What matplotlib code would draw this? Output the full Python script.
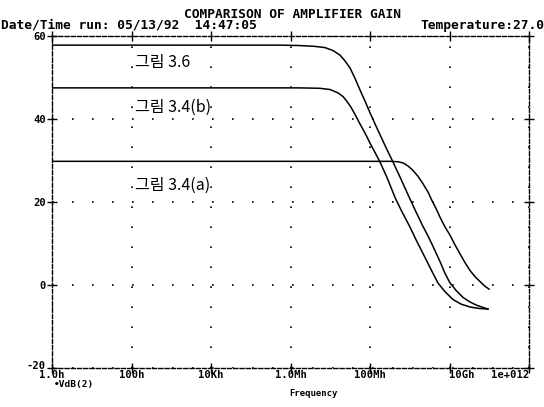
import numpy as np
import matplotlib
matplotlib.use('Agg')
import matplotlib.pyplot as plt
import matplotlib.transforms as mtransforms

# Frequency response (Hz, dB)
freq_36 = [1, 5.4e5, 1.7e6, 4.1e6, 7.4e6, 1.17e7, 1.76e7, 2.35e7, 3.14e7,
           4.2e7, 5.6e7, 7.5e7, 1.0e8, 1.34e8, 1.79e8, 2.53e8, 3.8e8, 5.7e8,
           9.0e8, 1.36e9, 2.03e9, 2.88e9, 3.85e9, 5.8e9, 7.7e9, 1.03e10,
           1.46e10, 2.19e10, 3.28e10, 4.9e10, 7.0e10, 9.3e10]
gain_36 = [57.8, 57.8, 57.7, 57.5, 57.2, 56.5, 55.4, 54.0, 52.3,
           49.8, 47.0, 44.3, 41.5, 38.8, 36.2, 33.1, 29.6, 26.0,
           21.8, 18.1, 14.6, 11.8, 9.3, 5.6, 2.8, 0.5,
           -1.3, -3.0, -4.1, -4.9, -5.4, -5.8]

freq_34b = [1, 1.7e6, 5.5e6, 9.9e6, 1.57e7, 2.1e7, 2.6e7, 3.3e7, 4.2e7,
            5.6e7, 7.5e7, 1.0e8, 1.34e8, 1.79e8, 2.68e8, 4.3e8, 6.4e8,
            1.01e9, 1.44e9, 2.15e9, 3.2e9, 5.1e9, 7.7e9, 1.22e10, 1.95e10,
            3.28e10, 5.5e10, 9.3e10]
gain_34b = [47.5, 47.5, 47.4, 47.1, 46.3, 45.4, 44.3, 42.9, 41.1,
            38.8, 36.6, 34.2, 31.9, 29.6, 25.9, 21.0, 17.6,
            14.0, 10.9, 7.6, 4.3, 0.5, -1.6, -3.5, -4.6,
            -5.3, -5.65, -5.8]

freq_34a = [1, 3.2e8, 5.1e8, 6.8e8, 9.0e8, 1.21e9, 1.61e9, 2.15e9, 2.88e9,
            3.6e9, 4.6e9, 5.8e9, 7.7e9, 1.03e10, 1.37e10, 1.84e10, 2.45e10,
            3.28e10, 4.4e10, 5.9e10, 7.8e10, 9.9e10]
gain_34a = [29.8, 29.8, 29.7, 29.4, 28.7, 27.6, 26.2, 24.4, 22.4,
            20.4, 18.4, 16.3, 14.0, 12.0, 9.7, 7.5, 5.4,
            3.5, 2.0, 0.8, -0.3, -1.0]

xticks = [1, 1e2, 1e4, 1e6, 1e8, 1e10, 1e12]
xlabels = ['1.0h', '100h', '10Kh', '1.0Mh', '100Mh', '10Gh', '1e+012']
yticks = [-20, 0, 20, 40, 60]

mono = {'family': 'DejaVu Sans Mono', 'weight': 'bold'}
kor = ['Noto Sans CJK KR', 'DejaVu Sans']

fig = plt.figure(figsize=(5.44, 4.07), dpi=100)
ax = fig.add_axes([52/544, 1 - 368/407, (529 - 52)/544, (368 - 36)/407])

for f, g in [(freq_36, gain_36), (freq_34b, gain_34b), (freq_34a, gain_34a)]:
    ax.plot(f, g, color='black', lw=1.1)

ax.set_xscale('log')
ax.set_xlim(1, 1e12)
ax.set_ylim(-20, 60)
ax.set_xticks(xticks)
ax.set_xticklabels(xlabels, fontsize=7.6, **mono)
ax.xaxis.set_minor_locator(matplotlib.ticker.NullLocator())
ax.set_yticks(yticks)
ax.set_yticklabels([str(v) for v in yticks], fontsize=7.6, **mono)

ax.tick_params(direction='inout', length=7, width=1, top=True, right=True,
               colors='black')
ax.tick_params(axis='x', pad=-2)
ax.tick_params(axis='y', pad=1)

labs = ax.get_xticklabels()
labs[-1].set_ha('right')
labs[-2].set_transform(labs[-2].get_transform() +
                       mtransforms.ScaledTranslation(0.12, 0, fig.dpi_scale_trans))
# bottom y label sits a bit higher so it clears "1.0h"
ylabs = ax.get_yticklabels()
ylabs[0].set_transform(ylabs[0].get_transform() +
                       mtransforms.ScaledTranslation(0, 0.03, fig.dpi_scale_trans))

ax.grid(True, color='black', linestyle=(0, (1, 11)), linewidth=1.2)

for sp in ax.spines.values():
    sp.set_linestyle((0, (3, 1.5)))
    sp.set_linewidth(1.0)

ax.text(1.2e2, 53.7, '그림 3.6', family=kor, fontsize=11.5, va='center')
ax.text(1.2e2, 42.7, '그림 3.4(b)', family=kor, fontsize=11.5, va='center')
ax.text(1.2e2, 24.1, '그림 3.4(a)', family=kor, fontsize=11.5, va='center')

fig.text(293/544, 1 - 15/407, 'COMPARISON OF AMPLIFIER GAIN', ha='center',
         va='center', fontsize=9.3, **mono)
fig.text(1/544, 1 - 25/407, 'Date/Time run: 05/13/92  14:47:05', ha='left',
         va='center', fontsize=9.3, **mono)
fig.text(544/544, 1 - 25/407, 'Temperature:27.0', ha='right',
         va='center', fontsize=9.3, **mono)
fig.text(54/544, 1 - 385/407, '\u2022VdB(2)', ha='left', va='center',
         fontsize=6.8, **mono)
fig.text(313/544, 1 - 394/407, 'Frequency', ha='center', va='center',
         fontsize=6.5, **mono)

fig.savefig('out.png', dpi=100)
